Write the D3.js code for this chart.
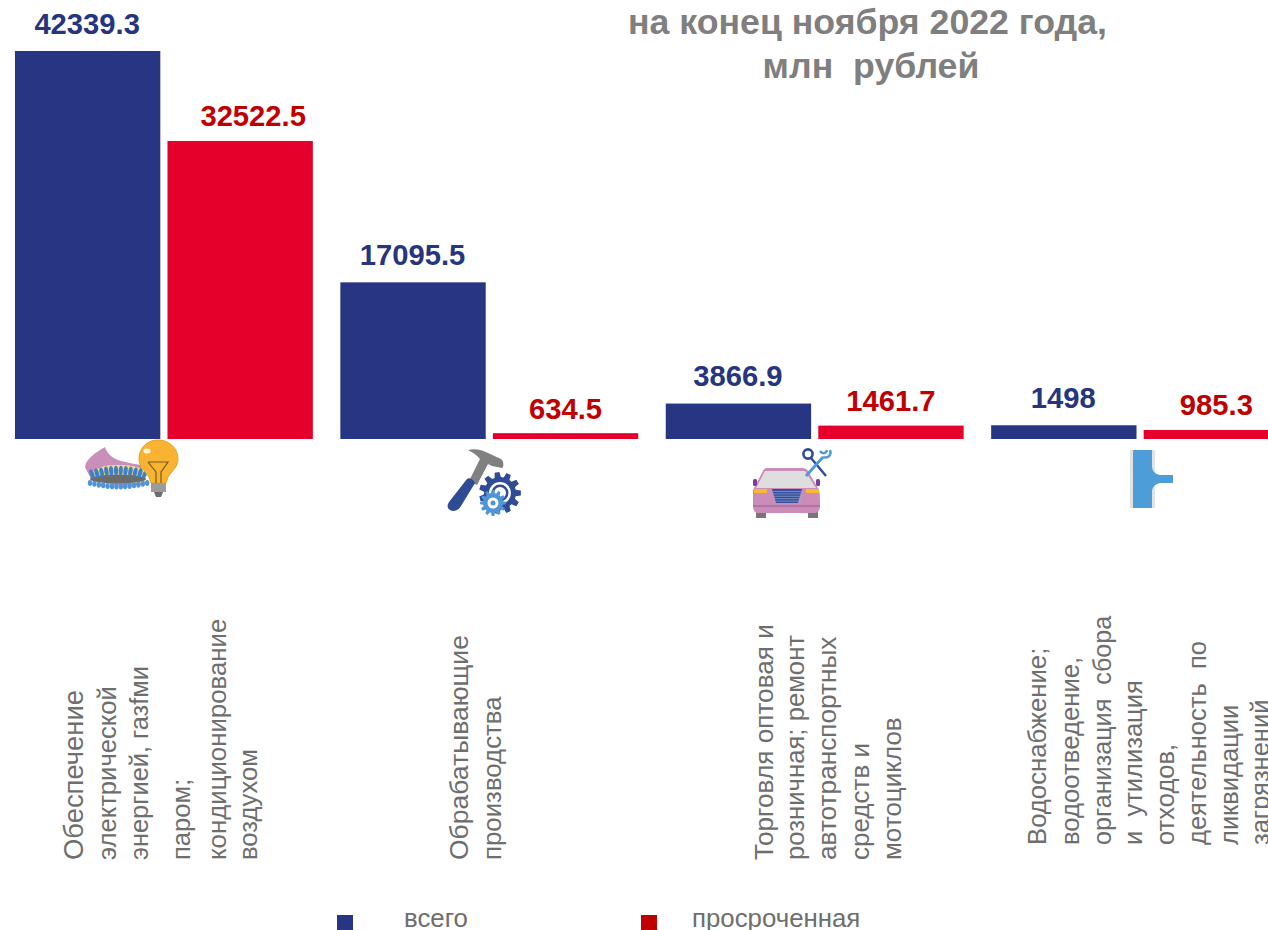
<!DOCTYPE html>
<html lang="ru"><head><meta charset="utf-8">
<script src="https://cdn.jsdelivr.net/npm/d3@7/dist/d3.min.js"></script>
<style>html,body{margin:0;padding:0;background:#fff;overflow:hidden}svg{display:block}text{font-family:"Liberation Sans",Arial,sans-serif}</style>
</head><body><div id="c"></div>
<script>
const categories = ["energy","manufacturing","trade","water"];
const seriesNames = ["всего","просроченная"];
const totalValues = [42339.3,17095.5,3866.9,1498];
const overdueValues = [32522.5,634.5,1461.7,985.3];
const titleLines = ["на конец ноября 2022 года,","млн  рублей"];
const categoryLines = [
 ["Обеспечение","электрической","энергией, газfми","паром;","кондиционирование","воздухом"],
 ["Обрабатывающие","производства"],
 ["Торговля оптовая и","розничная; ремонт","автотранспортных","средств и","мотоциклов"],
 ["Водоснабжение;","водоотведение,","организация  сбора","и  утилизация","отходов,","деятельность  по","ликвидации","загрязнений"]
];

const W=1268,H=930, BLUE="#283583", RED="#e4002b", GREY="#6e6e6e";
const svg=d3.select("#c").append("svg").attr("width",W).attr("height",H).attr("viewBox",[0,0,W,H]);
const y=d3.scaleLinear().domain([0,42339.3]).range([439,51]);
const step=325.4;
const x=d3.scaleBand().domain(categories).range([1.2,1.2+step*4]).paddingInner(27.5/step).paddingOuter(13.75/step);
const x1=d3.scaleBand().domain(seriesNames).range([0,x.bandwidth()]).paddingInner(7/149);
const colors=d3.scaleOrdinal(seriesNames,[BLUE,RED]);
const labelColors=d3.scaleOrdinal(seriesNames,["#27357f","#c00000"]);
const series=[totalValues,overdueValues];

const g=svg.selectAll("g.s").data(seriesNames).join("g").attr("class","s");
g.each(function(name,si){
  const sel=d3.select(this);
  const rows=categories.map((c,i)=>({c,i,v:series[si][i]}));
  sel.selectAll("rect").data(rows).join("rect")
    .attr("x",d=>x(d.c)+x1(name)).attr("width",x1.bandwidth())
    .attr("y",d=>y(d.v)).attr("height",d=>y(0)-y(d.v)).attr("fill",colors(name));
  sel.selectAll("text").data(rows).join("text")
    .attr("x",d=>x(d.c)+x1(name)+x1.bandwidth()/2+(si==1&&d.i==0?13:0)-(si==0?0.5:0))
    .attr("y",d=>y(d.v)-17.5+(si==1?3:0))
    .attr("text-anchor","middle").attr("font-size",29.2).attr("font-weight",700)
    .attr("fill",labelColors(name)).text(d=>d.v);
});

svg.selectAll("text.t").data(titleLines).join("text").attr("class","t")
  .attr("x",(d,i)=>i?871:867.5).attr("y",(d,i)=>34+i*44).attr("text-anchor","middle")
  .attr("font-size",35.7).attr("font-weight",700).attr("fill","#7f7f7f").style("white-space","pre").text(d=>d);

// axis labels, rotated
const lineX=[[83,116,148,190,226,257],[468,501],[773,804,836,869,901],[1046,1079,1111,1142,1174,1206,1238,1269]];
const bottoms=[860,860,860,845];
const lineSize=[[27.4,25.6,25.4,25.6,25.8,25.7],[26.5,25.8],[26.2,25.7,26.2,26,26],[25.7,25.7,25.2,25.5,25.5,25.5,25.5,25.5]];
categoryLines.forEach((ls,ci)=>{
  svg.append("g").selectAll("text").data(ls).join("text")
   .attr("transform",(d,i)=>`translate(${lineX[ci][i]},${bottoms[ci]}) rotate(-90)`)
   .attr("font-size",(d,i)=>lineSize[ci][i]).attr("fill",GREY).style("white-space","pre").text(d=>d);
});

// legend
const lx=d3.scaleOrdinal(seriesNames,[337,641]);
const ltx=d3.scaleOrdinal(seriesNames,[404,692]);
const lc=d3.scaleOrdinal(seriesNames,[BLUE,"#c00000"]);
const leg=svg.append("g").selectAll("g").data(seriesNames).join("g");
leg.append("rect").attr("x",d=>lx(d)).attr("y",915).attr("width",16).attr("height",16).attr("fill",d=>lc(d));
leg.append("text").attr("x",d=>ltx(d)).attr("y",926.5).attr("font-size",25.8).attr("fill",GREY).text(d=>d);

// icons
function burner(s){
  const b=s.append("g").attr("transform","translate(85,437)");
  b.append("path").attr("fill","#c98fb8").attr("d","M0,30 C1,22 10,16 20,10 C22,15 25,21 36,24 C44,26 50,27 56,28 L60,48 L30,48 L6,42 Z");
  b.append("path").attr("fill","#f7df8a").attr("d","M6,38 C8,31 20,28 32,28 C44,28 54,29 58,34 L60,46 L20,46 Z");
  b.append("ellipse").attr("cx",33).attr("cy",42).attr("rx",28).attr("ry",4.5).attr("fill","#6c6c6c");
  d3.range(12).forEach(i=>{
    const cx=7+i*4.8, cy=37-3.5*Math.sin(i/11*Math.PI);
    b.append("ellipse").attr("cx",cx).attr("cy",cy).attr("rx",2.1).attr("ry",4.8).attr("fill","#3f7fc4").attr("transform",`rotate(${(cx-33)*0.8} ${cx} ${cy})`);
  });
  d3.range(14).forEach(i=>{
    const cx=5+i*4.4, cy=46+3.5*Math.sin(i/13*Math.PI);
    b.append("ellipse").attr("cx",cx).attr("cy",cy).attr("rx",2.2).attr("ry",3).attr("fill","#4f94d6");
  });
  const l=s.append("g").attr("transform","translate(138,439)");
  l.append("path").attr("fill","#f8b333").attr("stroke","#eaa21f").attr("d","M20,1 C31,1 40,9 40,20 C40,28 34,32 30,38 L28,44 L13,44 L11,38 C7,32 1,28 1,20 C1,9 9,1 20,1 Z");
  l.append("ellipse").attr("cx",9).attr("cy",12).attr("rx",3.5).attr("ry",2.5).attr("fill","#fff4d8");
  l.append("path").attr("fill","none").attr("stroke","#7a5a22").attr("stroke-width",1.2).attr("d","M10,23 L30,23 L23,33 L23,44 M10,23 L18,33 L18,44");
  l.append("rect").attr("x",13).attr("y",44).attr("width",15).attr("height",9).attr("fill","#9b9b9b");
  l.append("path").attr("fill","#6c6c6c").attr("d","M16,53 L25,53 L23,58 L18,58 Z");
}
function gearPath(r,ri,n){
  const pts=[];
  for(let i=0;i<n;i++){const a=i/n*2*Math.PI,w=Math.PI/n*0.5;
    [[ri,a-w*1.4],[r,a-w*0.8],[r,a+w*0.8],[ri,a+w*1.4]].forEach(([q,t])=>pts.push([q*Math.cos(t),q*Math.sin(t)]));}
  return "M"+pts.map(p=>p.join(",")).join("L")+"Z";
}
function hammer(s){
  const h=s.append("g").attr("transform","translate(430,435)");
  h.append("path").attr("d","M38,15 C45,13 52,15 58,18 L71,24 C74,26 74,32 72,33 L62,31 L58,29 L47,50 L39,46 L50,24 C47,20 42,17 38,15 Z").attr("fill","#808080");
  h.append("path").attr("d","M37,44 C39,42 44,45 45,48 L31,71 C28,76 23,77 20,75 C17,73 17,70 19,67 Z").attr("fill","#2e4b94");
  h.append("g").attr("transform","translate(70,58)").call(t=>{
    t.append("path").attr("d",gearPath(21,16,11)).attr("fill","#2e4b94");
    t.append("circle").attr("r",11).attr("fill","#fff");
    t.append("circle").attr("r",8.5).attr("fill","#2e4b94");
    t.append("circle").attr("r",6).attr("fill","#fff");
  });
  h.append("g").attr("transform","translate(63,68)").call(t=>{
    t.append("path").attr("d",gearPath(13,10,12)).attr("fill","#4f94d6");
    t.append("circle").attr("r",5.5).attr("fill","#fff");
    t.append("circle").attr("r",2.5).attr("fill","#4f94d6");
  });
}
function car(s){
  const c=s.append("g").attr("transform","translate(740,440)");
  c.append("rect").attr("x",16).attr("y",71).attr("width",10).attr("height",7).attr("fill","#777");
  c.append("rect").attr("x",68).attr("y",71).attr("width",10).attr("height",7).attr("fill","#777");
  c.append("path").attr("d","M13,50 L23,31 C24,28 26,28 28,28 L62,28 C65,28 67,29 68,31 L79,50 C80,54 80,60 80,66 C80,70 78,73 75,73 L17,73 C15,73 13,70 13,66 Z").attr("fill","#cc8cba");
  c.append("path").attr("d","M16,48 L25,31 L65,31 L76,48 Z").attr("fill","#dedede");
  c.append("rect").attr("x",13).attr("y",39).attr("width",4).attr("height",7).attr("rx",1.5).attr("fill","#7a3f98");
  c.append("rect").attr("x",76).attr("y",39).attr("width",4).attr("height",7).attr("rx",1.5).attr("fill","#7a3f98");
  c.append("rect").attr("x",14).attr("y",49).attr("width",13).attr("height",4).attr("fill","#f6b92f");
  c.append("rect").attr("x",66).attr("y",49).attr("width",13).attr("height",4).attr("fill","#f6b92f");
  c.append("path").attr("d","M32,49 L62,49 L58,63 L36,63 Z").attr("fill","#34509a");
  d3.range(5).forEach(i=>c.append("line").attr("x1",33).attr("x2",61).attr("y1",51.5+i*2.4).attr("y2",51.5+i*2.4).attr("stroke","#9fb2d8").attr("stroke-width",.6));
  c.append("line").attr("x1",13).attr("x2",80).attr("y1",66).attr("y2",66).attr("stroke","#9a5a90").attr("stroke-width",1);
  c.append("path").attr("d","M71,18 L86,36").attr("stroke","#2e4b94").attr("stroke-width",2.4).attr("fill","none");
  c.append("circle").attr("cx",68).attr("cy",14).attr("r",4.6).attr("fill","none").attr("stroke","#2e4b94").attr("stroke-width",2.6);
  c.append("path").attr("d","M66,36 L83,17").attr("stroke","#4f9ad6").attr("stroke-width",2.8).attr("fill","none");
  c.append("path").attr("d","M83,17 C88,19 92,15 90,10 M80,11 C82,14 86,14 87,10").attr("stroke","#4f9ad6").attr("stroke-width",2.4).attr("fill","none");
}
function pipe(s){
  const p=s.append("g").attr("transform","translate(1110,440)");
  p.append("rect").attr("x",20).attr("y",10).attr("width",25).attr("height",58).attr("fill","#e2e2e2");
  p.append("path").attr("d","M23,10 L42,10 L42,26 C42,31 45,34 50,35 L63,35 L63,43 L50,43 C45,44 42,47 42,52 L42,68 L23,68 Z").attr("fill","#4d9dd9");
}
burner(svg);hammer(svg);car(svg);pipe(svg);
</script></body></html>
